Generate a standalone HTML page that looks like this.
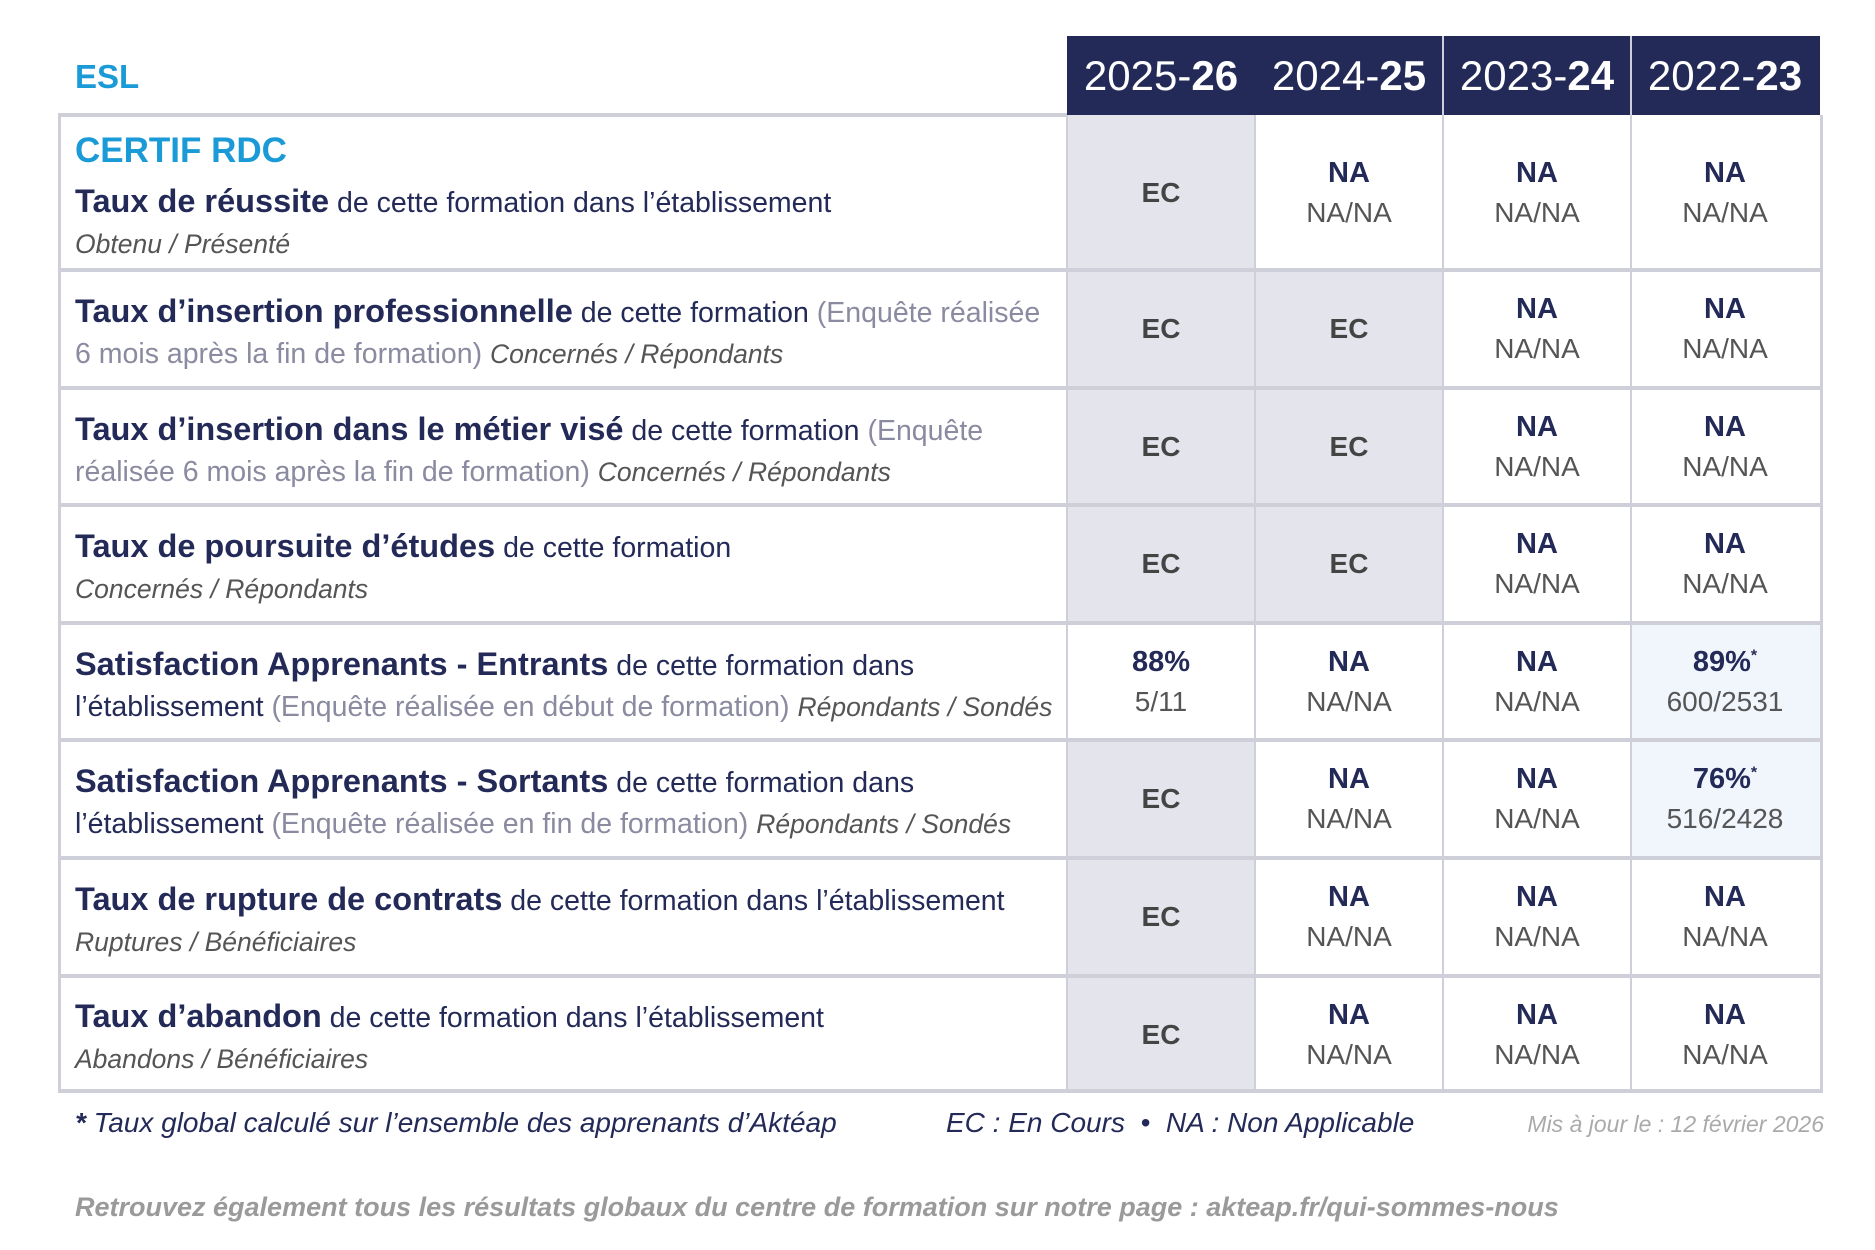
<!DOCTYPE html>
<html><head><meta charset="utf-8"><style>
body{margin:0;width:1875px;height:1250px;background:#fff;position:relative;overflow:hidden;font-family:"Liberation Sans",sans-serif;}
.a{position:absolute;white-space:nowrap}
.hd{position:absolute;top:36px;height:79px;background:#232a57}
.yr{position:absolute;top:36px;height:79px;line-height:79px;color:#fff;font-size:42px;text-align:center;width:188px}
.cell{position:absolute;text-align:center;color:#232a57}
.lbl{position:absolute;color:#232a57;font-size:28.5px;line-height:41px}
.lbl b{font-size:32.5px}
.g{color:#8a8aa0}
.i{font-style:italic;color:#555;font-size:26.5px}
.na{font-weight:bold;font-size:29px}
.nn{color:#555;font-size:28px}
.ec{font-weight:bold;color:#444;font-size:28px}
</style></head><body>
<div class="a" style="left:75px;top:58px;font-size:33px;font-weight:bold;color:#1a9ad6">ESL</div>
<div class="hd" style="left:1067px;width:376px"></div>
<div class="hd" style="left:1444px;width:186px"></div>
<div class="hd" style="left:1632px;width:188px"></div>
<div class="yr" style="left:1067px">2025-<b>26</b></div>
<div class="yr" style="left:1255px">2024-<b>25</b></div>
<div class="yr" style="left:1443px">2023-<b>24</b></div>
<div class="yr" style="left:1631px">2022-<b>23</b></div>

<div class="a" style="left:1067px;top:115px;width:188px;height:508px;background:#e4e4ec"></div>
<div class="a" style="left:1067px;top:740px;width:188px;height:353px;background:#e4e4ec"></div>
<div class="a" style="left:1255px;top:270px;width:188px;height:353px;background:#e4e4ec"></div>
<div class="a" style="left:1631px;top:623px;width:189px;height:235px;background:#f1f6fd"></div>

<div class="a" style="left:58px;top:115px;width:1759px;height:974px;border-left:3px solid #cfcfd9;border-right:3px solid #cfcfd9;border-bottom:4px solid #cfcfd9"></div>
<div class="a" style="left:1066px;top:115px;width:2px;height:978px;background:#cfcfd9"></div>
<div class="a" style="left:1254px;top:115px;width:2px;height:978px;background:#cfcfd9"></div>
<div class="a" style="left:1442px;top:36px;width:2px;height:1057px;background:#cfcfd9"></div>
<div class="a" style="left:1630px;top:36px;width:2px;height:1057px;background:#cfcfd9"></div>
<div class="a" style="left:58px;top:113px;width:1009px;height:4px;background:#cfcfd9"></div>
<div class="a" style="left:58px;top:268px;width:1762px;height:4px;background:#cfcfd9"></div>
<div class="a" style="left:58px;top:386px;width:1762px;height:4px;background:#cfcfd9"></div>
<div class="a" style="left:58px;top:503px;width:1762px;height:4px;background:#cfcfd9"></div>
<div class="a" style="left:58px;top:621px;width:1762px;height:4px;background:#cfcfd9"></div>
<div class="a" style="left:58px;top:738px;width:1762px;height:4px;background:#cfcfd9"></div>
<div class="a" style="left:58px;top:856px;width:1762px;height:4px;background:#cfcfd9"></div>
<div class="a" style="left:58px;top:974px;width:1762px;height:4px;background:#cfcfd9"></div>

<div class="a" style="left:75px;top:131px;font-size:35px;font-weight:bold;color:#1a9ad6">CERTIF RDC</div>
<div class="a lbl" style="left:75px;top:181px"><b>Taux de réussite</b> de cette formation dans l’établissement<br><span class="i">Obtenu / Présenté</span></div>
<div class="a lbl" style="left:75px;top:291px"><b>Taux d’insertion professionnelle</b> de cette formation <span class="g">(Enquête réalisée<br>6 mois après la fin de formation)</span> <span class="i">Concernés / Répondants</span></div>
<div class="a lbl" style="left:75px;top:409px"><b>Taux d’insertion dans le métier visé</b> de cette formation <span class="g">(Enquête<br>réalisée 6 mois après la fin de formation)</span> <span class="i">Concernés / Répondants</span></div>
<div class="a lbl" style="left:75px;top:526px"><b>Taux de poursuite d’études</b> de cette formation<br><span class="i">Concernés / Répondants</span></div>
<div class="a lbl" style="left:75px;top:644px"><b>Satisfaction Apprenants - Entrants</b> de cette formation dans<br>l’établissement <span class="g">(Enquête réalisée en début de formation)</span> <span class="i">Répondants / Sondés</span></div>
<div class="a lbl" style="left:75px;top:761px"><b>Satisfaction Apprenants - Sortants</b> de cette formation dans<br>l’établissement <span class="g">(Enquête réalisée en fin de formation)</span> <span class="i">Répondants / Sondés</span></div>
<div class="a lbl" style="left:75px;top:879px"><b>Taux de rupture de contrats</b> de cette formation dans l’établissement<br><span class="i">Ruptures / Bénéficiaires</span></div>
<div class="a lbl" style="left:75px;top:996px"><b>Taux d’abandon</b> de cette formation dans l’établissement<br><span class="i">Abandons / Bénéficiaires</span></div>

<div id="cells"></div>
<script>
var cols=[1067,1255,1443,1631],rows=[[115,270],[270,388],[388,505],[505,623],[623,740],[740,858],[858,976],[976,1093]];
var d=[["EC","NA","NA","NA"],["EC","EC","NA","NA"],["EC","EC","NA","NA"],["EC","EC","NA","NA"],["88%|5/11","NA","NA","89%*|600/2531"],["EC","NA","NA","76%*|516/2428"],["EC","NA","NA","NA"],["EC","NA","NA","NA"]];
var h="";
d.forEach(function(r,i){var t=rows[i][0],b=rows[i][1],m=(t+b)/2;r.forEach(function(v,j){var x=cols[j];
if(v=="EC")h+='<div class="cell ec" style="left:'+x+'px;width:188px;top:'+(m-16)+'px">EC</div>';
else{var p=v=="NA"?["NA","NA/NA"]:v.split("|");var top=p[0].replace("*","<sup style=\"font-size:16px\">*</sup>");
h+='<div class="cell na" style="left:'+x+'px;width:188px;top:'+(m-36)+'px">'+top+'</div><div class="cell nn" style="left:'+x+'px;width:188px;top:'+(m+4)+'px">'+p[1]+'</div>';}});});
document.getElementById("cells").innerHTML=h;
</script>

<div class="a" style="left:75px;top:1107px;font-size:28px;font-style:italic;color:#232a57"><b>*</b> Taux global calculé sur l’ensemble des apprenants d’Aktéap</div>
<div class="a" style="left:946px;top:1107px;font-size:28px;font-style:italic;color:#232a57">EC : En Cours &nbsp;•&nbsp; NA : Non Applicable</div>
<div class="a" style="left:1504px;top:1111px;font-size:23px;font-style:italic;color:#aaa;width:320px;text-align:right">Mis à jour le : 12 février 2026</div>
<div class="a" style="left:75px;top:1192px;font-size:27px;font-style:italic;font-weight:bold;color:#9a9a9a">Retrouvez également tous les résultats globaux du centre de formation sur notre page : akteap.fr/qui-sommes-nous</div>
</body></html>
